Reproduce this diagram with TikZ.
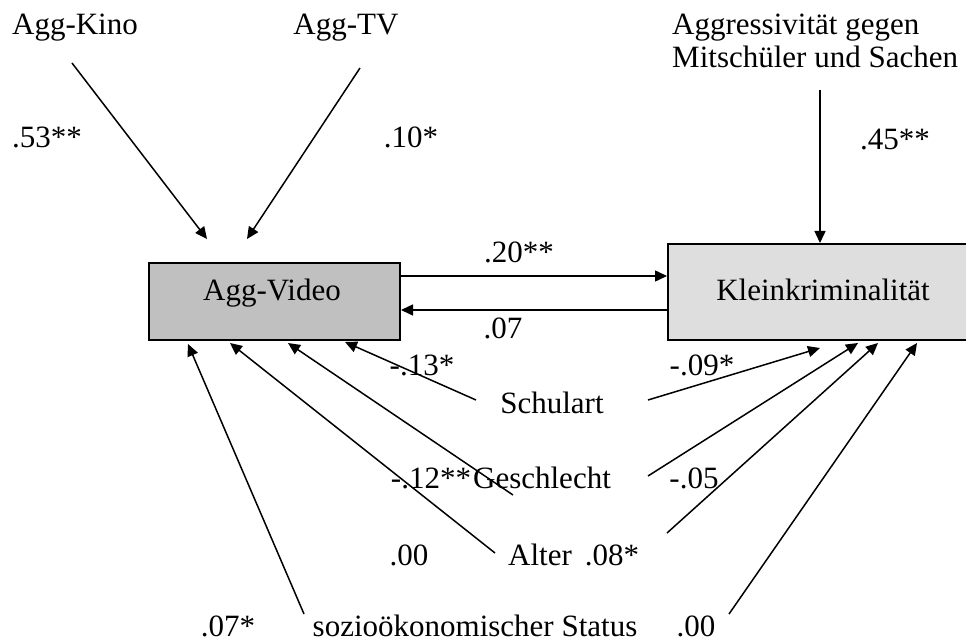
\documentclass[tikz,border=0pt]{standalone}
\usepackage{fontspec}
\setmainfont{Liberation Serif}
\usetikzlibrary{arrows.meta}
\definecolor{vidgray}{HTML}{C0C0C0}
\definecolor{klgray}{HTML}{DEDEDE}
\begin{document}
\begin{tikzpicture}[x=1pt,y=-1pt,
  txt/.style={font=\fontsize{31}{33}\selectfont, inner sep=0pt, anchor=base},
  box/.style={draw, line width=2pt, inner sep=0pt, anchor=north west},
  arr/.style={line width=1.5pt, -{Triangle[length=12pt,width=11pt]}}]
\useasboundingbox (0,0) rectangle (966,644);

% boxes
\node[box, fill=vidgray, minimum width=251pt, minimum height=77pt] (video) at (148,262) {};
\node[txt] (videotxt) at (272,300) {Agg-Video};
\node[box, fill=klgray, minimum width=300pt, minimum height=96pt] (klein) at (667,243) {};
\node[txt] (kleintxt) at (823,300) {Kleinkriminalität};

% top variables
\node[txt] (kino) at (75,35) {Agg-Kino};
\node[txt] (tv) at (346,35) {Agg-TV};
\node[txt, anchor=base west, align=left] (aggr) at (672,68) {Aggressivität gegen\\Mitschüler und Sachen};

% bottom variables
\node[txt] (schulart) at (552,413) {Schulart};
\node[txt] (geschl) at (542,488) {Geschlecht};
\node[txt] (alter) at (540,565) {Alter};
\node[txt] (ses) at (475,636) {sozioökonomischer Status};

% coefficients
\node[txt] (c53) at (47,148) {.53**};
\node[txt] (c10) at (411,148) {.10*};
\node[txt] (c45) at (895,150) {.45**};
\node[txt] (c20) at (519,263) {.20**};
\node[txt] (c07a) at (503,338) {.07};
\node[txt] (c13) at (422,375) {-.13*};
\node[txt] (c09) at (702,375) {-.09*};
\node[txt] (c12) at (431,488) {-.12**};
\node[txt] (c05) at (694,488) {-.05};
\node[txt] (c00a) at (409,565) {.00};
\node[txt] (c08) at (612,565) {.08*};
\node[txt] (c07b) at (228,636) {.07*};
\node[txt] (c00b) at (696,636) {.00};

% arrow start / end points
\coordinate (kinoS) at (72,63);   \coordinate (kinoT) at (207,239);
\coordinate (tvS) at (360,68);    \coordinate (tvT) at (247,239);
\coordinate (aggrS) at (820,90);

\coordinate (schV) at (476,400);  \coordinate (schVT) at (345,342);
\coordinate (gesV) at (513,495);  \coordinate (gesVT) at (288,343);
\coordinate (altV) at (495,553);  \coordinate (altVT) at (230,343);
\coordinate (sesV) at (304,614);  \coordinate (sesVT) at (188,344);

\coordinate (schK) at (648,400);  \coordinate (schKT) at (820,348);
\coordinate (gesK) at (648,476);  \coordinate (gesKT) at (858,343);
\coordinate (altK) at (667,533);  \coordinate (altKT) at (878,343);
\coordinate (sesK) at (729,614);  \coordinate (sesKT) at (917,343);

% connectors
\draw[arr] (kinoS) -- (kinoT);
\draw[arr] (tvS) -- (tvT);
\draw[arr] (aggrS) -- (aggrS |- klein.north);
\draw[arr] ([yshift=25.5pt]video.east) -- ([yshift=25.5pt]video.east -| klein.west);
\draw[arr] ([yshift=-8.5pt]video.east -| klein.west) -- ([yshift=-8.5pt]video.east);

\draw[arr] (schV) -- (schVT);
\draw[arr] (gesV) -- (gesVT);
\draw[arr] (altV) -- (altVT);
\draw[arr] (sesV) -- (sesVT);

\draw[arr] (schK) -- (schKT);
\draw[arr] (gesK) -- (gesKT);
\draw[arr] (altK) -- (altKT);
\draw[arr] (sesK) -- (sesKT);
\end{tikzpicture}
\end{document}
